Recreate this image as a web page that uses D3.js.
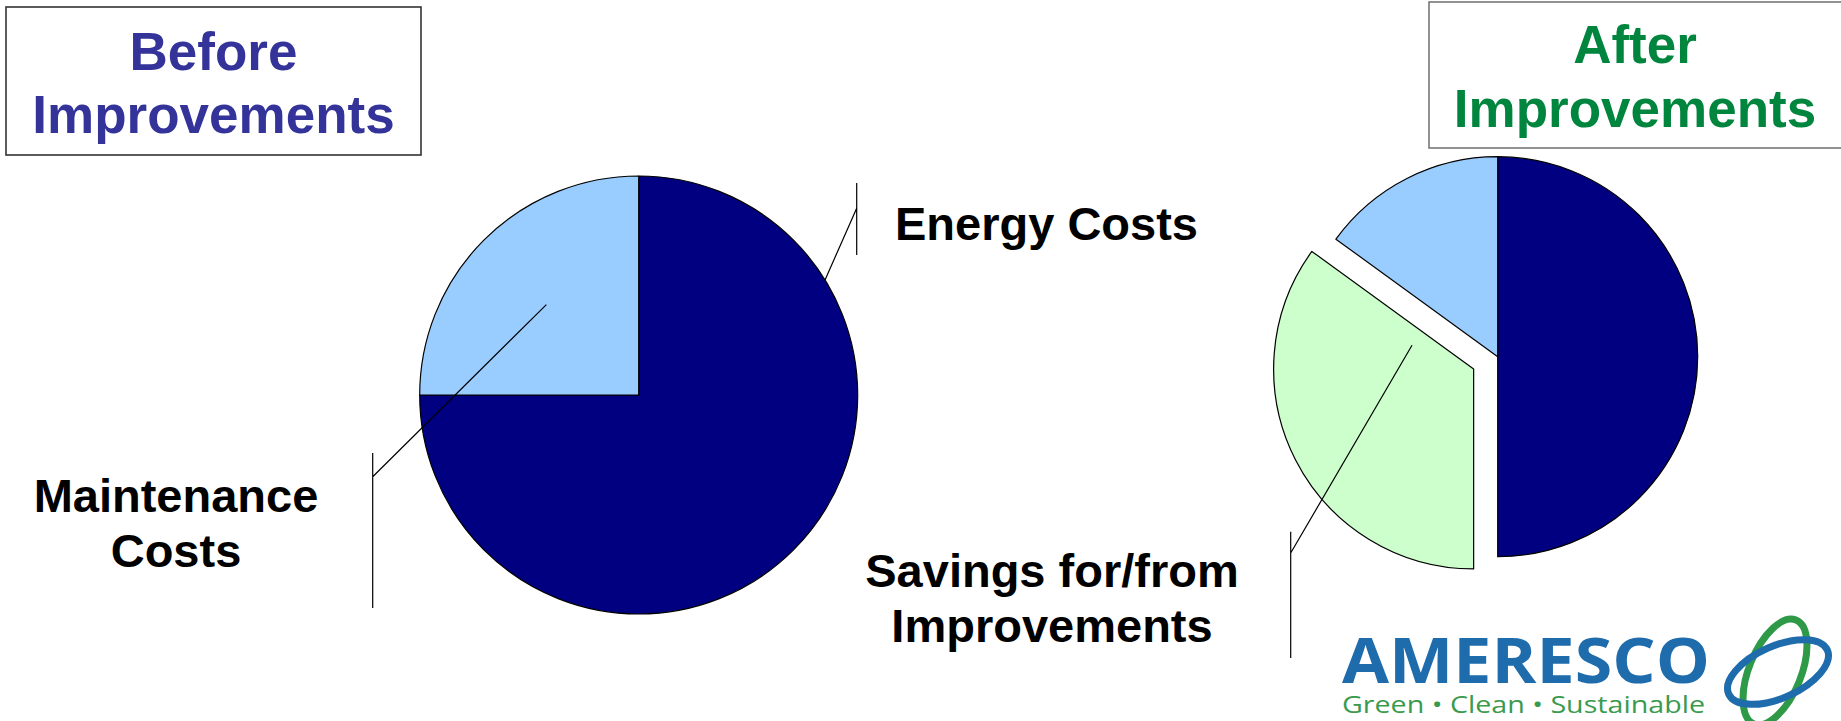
<!DOCTYPE html>
<html>
<head>
<meta charset="utf-8">
<script src="https://cdn.jsdelivr.net/npm/d3@7"></script>
<style>
  body { margin: 0; background: #fff; }
  svg { display: block; }
</style>
</head>
<body>
<svg id="chart" width="1841" height="721"></svg>
<script>
// data (percent of total cost)
const beforeLabels = ['Energy Costs', 'Maintenance Costs'];
const beforeValues = [75, 25];
const afterLabels = ['Energy Costs', 'Savings for/from Improvements', 'Maintenance Costs'];
const afterValues = [50, 35, 15];
const afterExplode = [0, 27, 0];

const categories = ['Energy Costs', 'Maintenance Costs', 'Savings for/from Improvements'];
const colours = ['#000080', '#99ccff', '#ccffcc'];

const FONT = "'Liberation Sans', Arial, Helvetica, sans-serif";
const svg = d3.select('svg#chart');

const colour = d3.scaleOrdinal().domain(categories).range(colours);
const pie = d3.pie().sort(null).value((d) => d);

// polar helper, angle in radians clockwise from 12 o'clock
function polar(cx, cy, r, a) {
  return [cx + r * Math.sin(a), cy - r * Math.cos(a)];
}

function drawPie(cx, cy, r, labels, values, explode) {
  const arc = d3.arc().innerRadius(0).outerRadius(r);
  const slices = pie(values);
  const g = svg.append('g');
  g.selectAll('path')
    .data(slices)
    .enter()
    .append('path')
    .attr('transform', (d, i) => {
      const mid = (d.startAngle + d.endAngle) / 2;
      const off = explode ? explode[i] : 0;
      const p = polar(cx, cy, off, mid);
      return `translate(${p[0]},${p[1]})`;
    })
    .attr('d', arc)
    .attr('fill', (d, i) => colour(labels[i]))
    .attr('stroke', '#000')
    .attr('stroke-width', 1.2)
    .attr('stroke-linejoin', 'round');
  return slices;
}

// title boxes
function titleBox(x, y, w, h, lines, cx, baselines, fill, stroke) {
  svg.append('rect')
    .attr('x', x).attr('y', y).attr('width', w).attr('height', h)
    .attr('fill', 'none').attr('stroke', stroke).attr('stroke-width', 1.6);
  svg.selectAll(null)
    .data(lines)
    .enter()
    .append('text')
    .attr('x', cx)
    .attr('y', (d, i) => baselines[i])
    .attr('text-anchor', 'middle')
    .attr('font-family', FONT)
    .attr('font-weight', 'bold')
    .attr('font-size', '53px')
    .attr('fill', fill)
    .text((d) => d);
}

titleBox(6, 7, 415, 148, ['Before', 'Improvements'], 213.5, [70, 133], '#333399', '#333');
titleBox(1429, 2, 430, 146, ['After', 'Improvements'], 1635, [63, 127], '#00853e', '#777');

// pies
const B = { cx: 638.7, cy: 395, r: 219 };
const A = { cx: 1497.7, cy: 356.7, r: 200 };
const beforeSlices = drawPie(B.cx, B.cy, B.r, beforeLabels, beforeValues, null);
const afterSlices = drawPie(A.cx, A.cy, A.r, afterLabels, afterValues, afterExplode);

// leader lines: anchor on the slice (angle deg, fraction of radius), bend point, vertical bar
function leader(slice, P, off, angDeg, frac, bend, barTop, barBottom) {
  const mid = (slice.startAngle + slice.endAngle) / 2;
  const c = polar(P.cx, P.cy, off, mid);
  const a = polar(c[0], c[1], P.r * frac, angDeg * Math.PI / 180);
  svg.append('path')
    .attr('d', `M${a[0]},${a[1]}L${bend[0]},${bend[1]}M${bend[0]},${barTop}L${bend[0]},${barBottom}`)
    .attr('fill', 'none')
    .attr('stroke', '#000')
    .attr('stroke-width', 1.2);
}

leader(beforeSlices[0], B, 0, 58.3, 1.0, [856.7, 208.3], 183, 255);
leader(beforeSlices[1], B, 0, 314.4, 0.59, [372.7, 476.7], 453, 608);
leader(afterSlices[1], A, afterExplode[1], 291, 0.33, [1290.7, 553], 531.7, 658);

// slice labels
function label(lines, x, baselines, anchor) {
  svg.selectAll(null)
    .data(lines)
    .enter()
    .append('text')
    .attr('x', x)
    .attr('y', (d, i) => baselines[i])
    .attr('text-anchor', anchor)
    .attr('font-family', FONT)
    .attr('font-weight', 'bold')
    .attr('font-size', '47px')
    .attr('fill', '#000')
    .text((d) => d);
}

label([beforeLabels[0]], 895, [240], 'start');
label(['Maintenance', 'Costs'], 176, [512, 567], 'middle');
label(['Savings for/from', 'Improvements'], 1052, [587, 642], 'middle');

// company logo
const logo = svg.append('g');
logo.append('text')
  .attr('x', 1342).attr('y', 683)
  .attr('font-family', "'Open Sans', Lato, sans-serif")
  .attr('font-weight', 700)
  .attr('font-size', '63px')
  .attr('textLength', 368)
  .attr('lengthAdjust', 'spacingAndGlyphs')
  .attr('fill', '#1f6cad')
  .text('AMERESCO');
logo.append('text')
  .attr('x', 1342).attr('y', 713)
  .attr('font-family', "'Open Sans', Lato, sans-serif")
  .attr('font-size', '24px')
  .attr('textLength', 363)
  .attr('lengthAdjust', 'spacingAndGlyphs')
  .attr('fill', '#3a9a4e')
  .text('Green \u2022 Clean \u2022 Sustainable');
logo.append('ellipse')
  .attr('cx', 1775).attr('cy', 672).attr('rx', 26).attr('ry', 56)
  .attr('transform', 'rotate(22,1775,672)')
  .attr('fill', 'none').attr('stroke', '#2e9a48').attr('stroke-width', 7);
logo.append('ellipse')
  .attr('cx', 1778).attr('cy', 672).attr('rx', 54).attr('ry', 26)
  .attr('transform', 'rotate(-24,1778,672)')
  .attr('fill', 'none').attr('stroke', '#1f6cad').attr('stroke-width', 7);
</script>
</body>
</html>
